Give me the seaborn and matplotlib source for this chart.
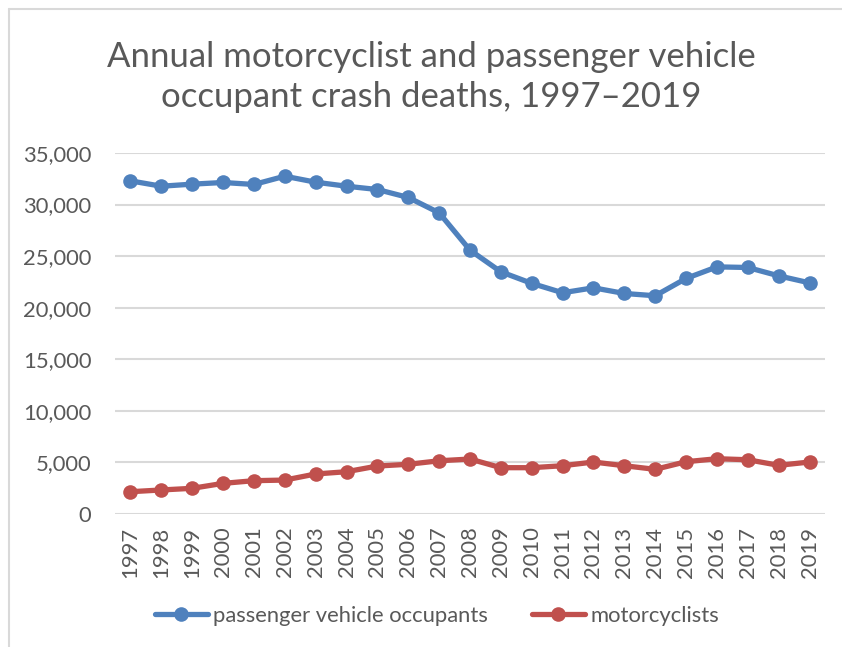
import pandas as pd
import matplotlib
matplotlib.use("Agg")
import matplotlib.pyplot as plt
from matplotlib.lines import Line2D
from matplotlib.ticker import FuncFormatter
import seaborn as sns

years = list(range(1997, 2020))
passenger = [32300, 31780, 31980, 32140, 31950, 32750, 32170, 31780, 31460, 30690, 29200,
             25580, 23480, 22360, 21450, 21930, 21380, 21160, 22840, 23960, 23900, 23090, 22410]
motorcycle = [2160, 2330, 2490, 2970, 3230, 3290, 3880, 4100, 4650, 4820, 5160,
              5330, 4490, 4490, 4680, 5040, 4680, 4330, 5070, 5360, 5260, 4720, 5040]
series_names = ["passenger vehicle occupants", "motorcyclists"]
colors = ["#4F81BD", "#C0504D"]

df = pd.DataFrame({
    "Year": years * 2,
    "Deaths": passenger + motorcycle,
    "Group": [series_names[0]] * len(years) + [series_names[1]] * len(years),
})

sns.set_style("white")
plt.rcParams["font.family"] = ["Lato", "DejaVu Sans"]
grey = "#595959"

fig = plt.figure(figsize=(8.42, 6.47), dpi=100)
ax = fig.add_axes([115 / 842, 133 / 647, 710 / 842, 361 / 647])

sns.lineplot(data=df, x="Year", y="Deaths", hue="Group", palette=colors,
             marker="o", markersize=10.5, markeredgewidth=0, linewidth=3.8, ax=ax)

ax.set_xlim(years[0] - 0.5, years[-1] + 0.5)
ax.set_ylim(0, 35000)
ax.set_yticks(range(0, 35001, 5000))
ax.yaxis.set_major_formatter(FuncFormatter(lambda v, p: f"{int(v):,}"))
ax.set_xticks(years)
ax.set_xticklabels([str(y) for y in years], rotation=90)
ax.tick_params(axis="y", length=0, pad=17, labelsize=15.8, labelcolor=grey)
ax.tick_params(axis="x", length=0, pad=9, labelsize=15.8, labelcolor=grey)
ax.grid(axis="y", color="#d9d9d9", linewidth=1.5)
ax.set_axisbelow(True)
for s in ax.spines.values():
    s.set_visible(False)
ax.set_xlabel("")
ax.set_ylabel("")

handles, labels = ax.get_legend_handles_labels()
ax.get_legend().remove()
fig.legend(handles, labels, loc="center", bbox_to_anchor=(437 / 842, 1 - 616 / 647),
           ncol=2, frameon=False, fontsize=15.8, labelcolor=grey,
           handlelength=2.4, handletextpad=0.25, columnspacing=2.0)

fig.text(431 / 842, 1 - 77 / 647,
         "Annual motorcyclist and passenger vehicle\noccupant crash deaths, 1997\u20132019",
         ha="center", va="center", fontsize=25, color=grey, linespacing=1.3)

# chart frame (top and left edges visible)
fig.add_artist(Line2D([9 / 842, 9 / 842], [0, 1 - 9 / 647], transform=fig.transFigure,
                      color="#d9d9d9", linewidth=1.5))
fig.add_artist(Line2D([9 / 842, 1], [1 - 9 / 647, 1 - 9 / 647], transform=fig.transFigure,
                      color="#d9d9d9", linewidth=1.5))

fig.savefig("out.png", dpi=100)
